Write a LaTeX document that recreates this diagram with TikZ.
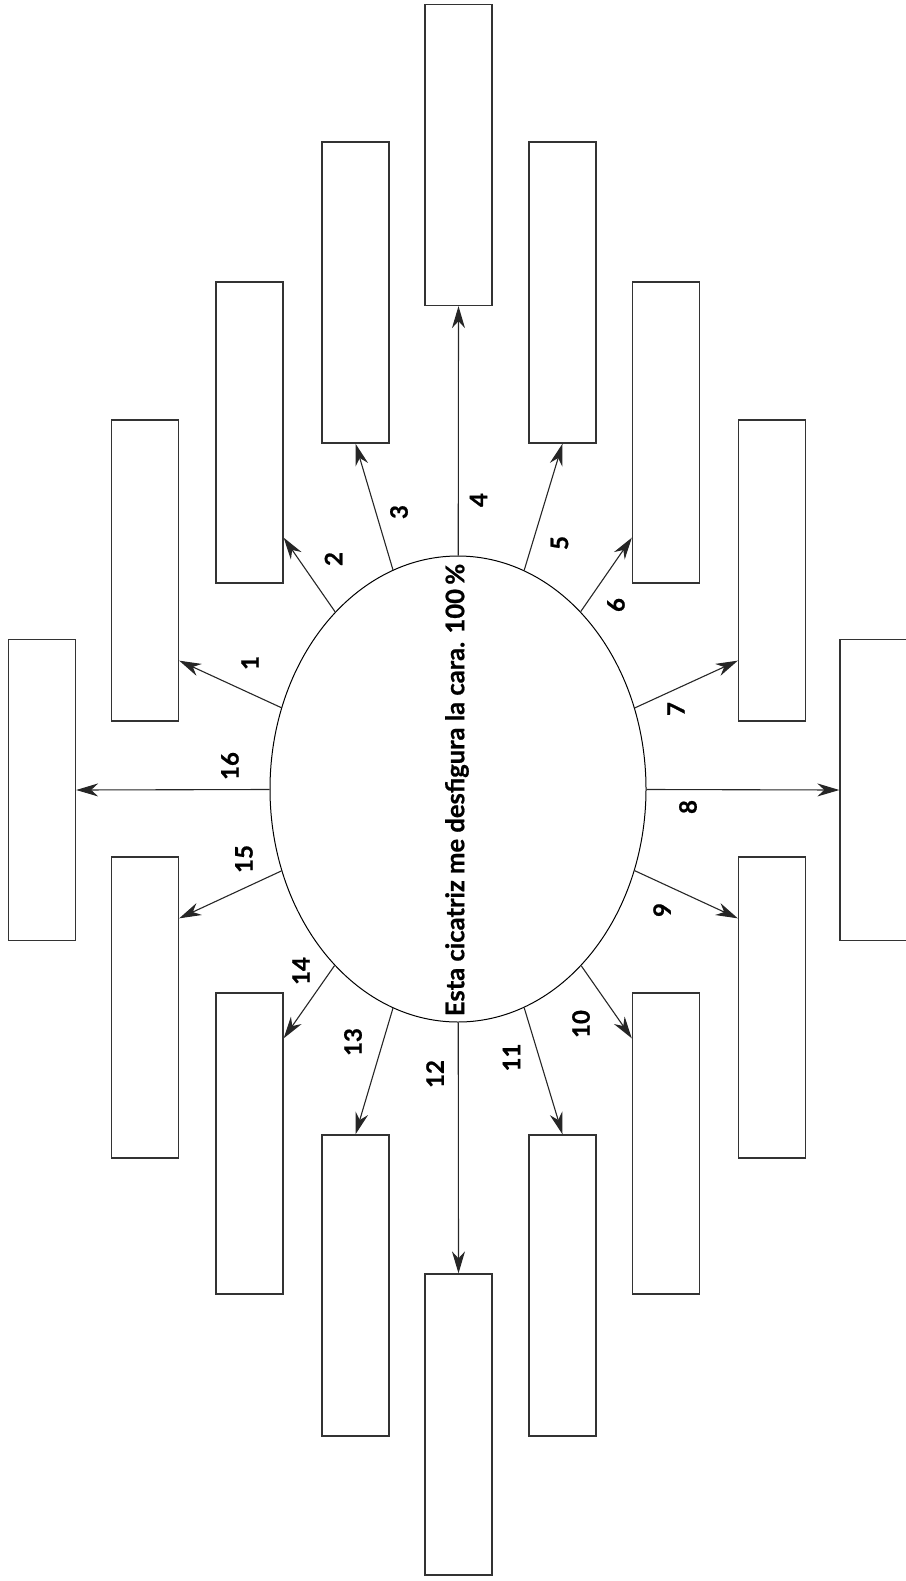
\documentclass[tikz,border=0pt]{standalone}
\usepackage{fontspec}
\setmainfont{Lato}
\newfontfamily\thickfont{Lato Bold}[FakeBold=0.8]
\usetikzlibrary{shapes.geometric, calc, arrows.meta}

\tikzset{
    slot/.style={draw=black!80, line width=1.3pt, minimum width=67pt, minimum height=301pt, inner sep=0pt},
    scar/.style={ellipse, draw, line width=1pt, minimum width=376pt, minimum height=466pt, inner sep=0pt},
    num/.style={rotate=90, inner sep=0pt, font=\fontsize{24}{24}\thickfont},
    arr/.style={-{Stealth[length=22pt, width=13pt, inset=7pt]}, line width=1.1pt, draw=black!85}
}

\begin{document}
\begin{tikzpicture}[x=1pt, y=-1pt]
        \useasboundingbox (0,0) rectangle (905,1581);

        % Central idea
        \node[scar] (ell) at (458,789) {};
        \node[rotate=90, inner sep=0pt, font=\fontsize{25.6}{26}\thickfont] (idea) at (457,790)
            {Esta cicatriz me desfigura la cara. 100\,\%};

        % Boxes
        \foreach \n/\x/\y in {4/458.5/155, 3/355.5/292.5, 5/562.5/292.5, 2/249.5/432.5, 6/666/432.5,
                1/145/570.5, 7/772/570.5, 16/42/790, 8/873.5/790, 15/145/1007.5, 9/772/1007.5,
                14/249.5/1143.5, 10/666/1143.5, 13/355.5/1285.5, 11/562.5/1285.5, 12/458.5/1424.5}
            \node[slot] (b\n) at (\x,\y) {};

        % Arrow ends on the box sides
        \coordinate (t1) at ([yshift=61pt]b1.south east);
        \coordinate (t2) at ([yshift=46pt]b2.south east);
        \coordinate (t6) at ([yshift=46pt]b6.south west);
        \coordinate (t7) at ([yshift=61pt]b7.south west);
        \coordinate (t9) at ([yshift=-62pt]b9.north west);
        \coordinate (t10) at ([yshift=-46pt]b10.north west);
        \coordinate (t14) at ([yshift=-46pt]b14.north east);
        \coordinate (t15) at ([yshift=-62pt]b15.north east);

        % Arrows
        \foreach \t in {t1, t2, b3.south, b4.south, b5.south, t6, t7, b8.west,
                t9, t10, b11.north, b12.north, b13.north, t14, t15, b16.east}
            \draw[arr] (ell) -- (\t);

        % Numbers
        \foreach \n/\x/\y in {1/250/663, 2/333.5/559, 3/399/512, 4/478.5/500, 5/559.5/543, 6/616/605,
                7/676/709, 8/688/807, 9/662/910, 10/581/1024, 11/511.5/1057.5, 12/435/1074,
                13/353/1042, 14/301/971, 15/244/859, 16/230/766}
            \node[num] (n\n) at (\x,\y) {\n};
    \end{tikzpicture}
\end{document}
